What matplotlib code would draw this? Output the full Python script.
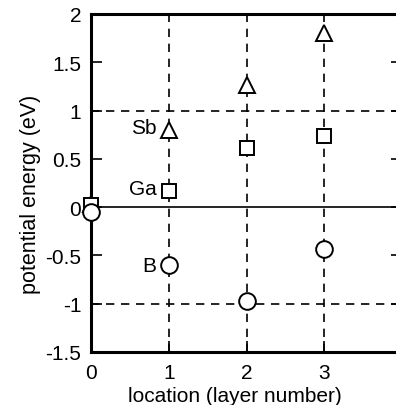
import matplotlib
matplotlib.use('Agg')
import matplotlib.pyplot as plt
import numpy as np

plt.rcParams['font.family'] = ['Liberation Sans', 'DejaVu Sans']

# location (layer number)
layers = [0, 1, 2, 3]
# potential energy (eV)
sb_energy = [0.03, 0.80, 1.26, 1.80]
ga_energy = [0.02, 0.17, 0.61, 0.74]
b_energy = [-0.05, -0.60, -0.97, -0.43]

xticks = [0, 1, 2, 3]
yticks = [-1.5, -1, -0.5, 0, 0.5, 1, 1.5, 2]
ytick_labels = ['-1.5', '-1', '-0.5', '0', '0.5', '1', '1.5', '2']

fig = plt.figure(figsize=(3.96, 4.06), dpi=100)
ax = fig.add_axes([91/396, 53/406, 311/396, 338/406])

ax.set_xlim(0, 4)
ax.set_ylim(-1.5, 2)

# dashed guide lines
for xv in [1, 2, 3]:
    ax.axvline(xv, color='k', ls=(0, (5, 4)), lw=1.2, zorder=1)
for yv in [1, -1]:
    ax.axhline(yv, color='k', ls=(0, (5, 4)), lw=1.2, zorder=1)
ax.axhline(0, color='k', lw=1.2, zorder=1)

ax.plot(layers, sb_energy, ls='none', marker='^', ms=11, mfc='white', mec='k', mew=1.4, zorder=3, clip_on=False)
ax.plot(layers, ga_energy, ls='none', marker='s', ms=9.5, mfc='white', mec='k', mew=1.4, zorder=3, clip_on=False)
ax.plot(layers, b_energy, ls='none', marker='o', ms=12, mfc='white', mec='k', mew=1.4, zorder=4, clip_on=False)

ax.text(0.84, sb_energy[1] + 0.02, 'Sb', ha='right', va='center', fontsize=15)
ax.text(0.84, ga_energy[1] + 0.02, 'Ga', ha='right', va='center', fontsize=15)
ax.text(0.84, b_energy[1], 'B', ha='right', va='center', fontsize=15)

ax.set_xticks(xticks)
ax.set_yticks(yticks)
ax.set_yticklabels(ytick_labels)
ax.tick_params(direction='in', length=8, width=1.2, labelsize=15, right=True, top=False)
ax.tick_params(axis='y', pad=7)
ax.tick_params(axis='x', pad=8)

for s in ['left', 'bottom', 'top', 'right']:
    ax.spines[s].set_linewidth(2.2)

ax.set_xlabel('location (layer number)', fontsize=15)
ax.set_ylabel('potential energy (eV)', fontsize=15.5)
ax.xaxis.set_label_coords(0.463, -0.1)
ax.yaxis.set_label_coords(-0.16, 0.47)

fig.savefig('out.png', dpi=100)
